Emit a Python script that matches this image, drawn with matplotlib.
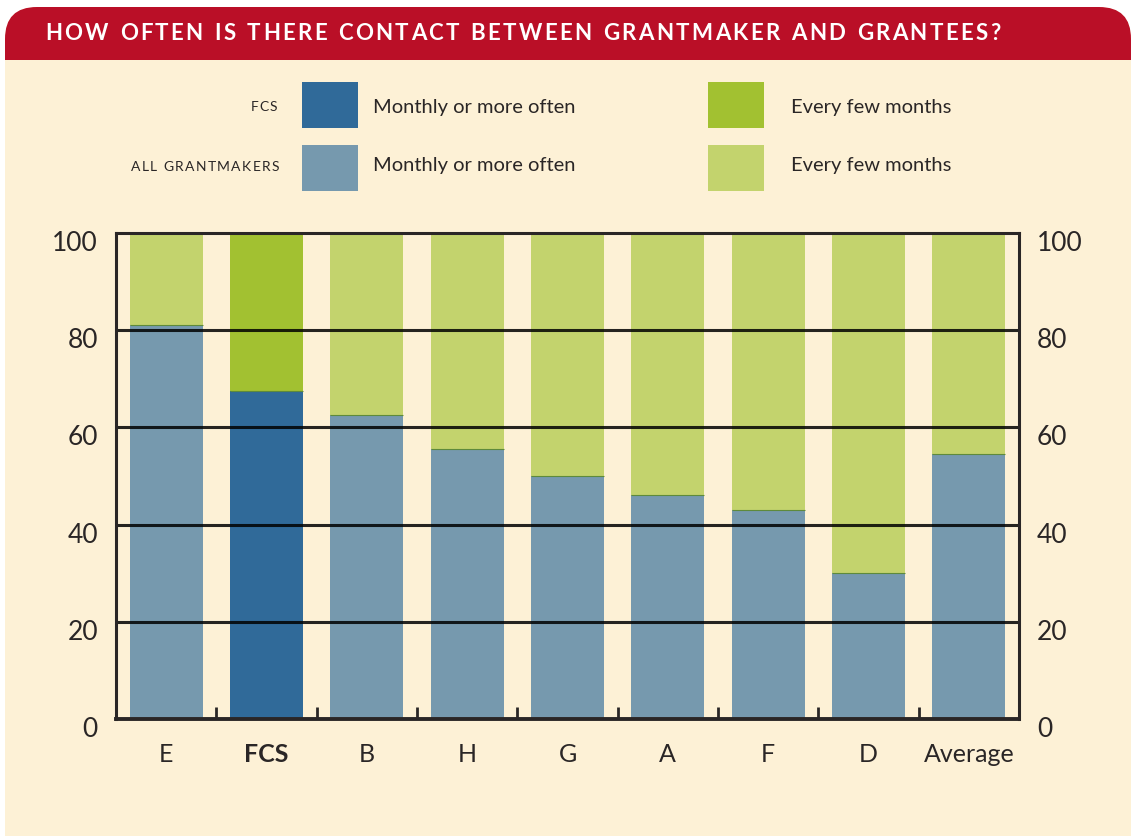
import matplotlib
matplotlib.use('Agg')
import matplotlib.pyplot as plt
import matplotlib.transforms as mtransforms
from matplotlib.patches import FancyBboxPatch, Rectangle

# Data
categories = ['E', 'FCS', 'B', 'H', 'G', 'A', 'F', 'D', 'Average']
monthly = [81, 67.5, 62.5, 55.5, 50, 46, 43, 30, 54.5]
few_months = [19, 32, 37.5, 44.5, 50, 54, 57, 70, 45.5]
y_ticks = [0, 20, 40, 60, 80, 100]

# Colors
c_bg = '#FDF1D6'
c_red = '#BA0F27'
c_fcs_month = '#306A99'
c_fcs_few = '#A2C131'
c_all_month = '#7699AE'
c_all_few = '#C3D36D'
c_text = '#2A2626'

plt.rcParams['font.family'] = ['Lato', 'DejaVu Sans']

W, H = 1132, 836
fig = plt.figure(figsize=(W / 100, H / 100), dpi=100, facecolor='white')

# background layer in pixel coords
bg = fig.add_axes([0, 0, 1, 1], zorder=0)
bg.set_xlim(0, W)
bg.set_ylim(H, 0)
bg.axis('off')

bg.add_patch(FancyBboxPatch((5, 7), 1126, 860, boxstyle='round,pad=0,rounding_size=32',
                            facecolor=c_bg, edgecolor='none'))
bg.add_patch(FancyBboxPatch((5, 7), 1126, 100, boxstyle='round,pad=0,rounding_size=32',
                            facecolor=c_red, edgecolor='none'))
bg.add_patch(Rectangle((5, 60), 1126, 80, facecolor=c_bg, edgecolor='none'))

renderer = fig.canvas.get_renderer()


def spaced_text(ax, x, y, s, target_w, align='left', **kw):
    """Draw text letter by letter, stretched to a target width"""
    widths = []
    for ch in s:
        if ch == ' ':
            t = ax.text(0, 0, 'n', **kw)
            w = t.get_window_extent(renderer).width * 0.55
        else:
            t = ax.text(0, 0, ch, **kw)
            w = t.get_window_extent(renderer).width
        t.remove()
        widths.append(w)
    gap = (target_w - sum(widths)) / (len(s) - 1)
    if align == 'right':
        x = x - target_w
    for ch, w in zip(s, widths):
        if ch != ' ':
            ax.text(x, y, ch, ha='left', va='center', **kw)
        x += w + gap


# Title
spaced_text(bg, 45, 33, 'HOW OFTEN IS THERE CONTACT BETWEEN GRANTMAKER AND GRANTEES?',
            955, fontsize=16, fontweight='bold', color='white')

# Legend
spaced_text(bg, 277, 107, 'FCS', 26, align='right', fontsize=10, color=c_text)
spaced_text(bg, 279, 167, 'ALL GRANTMAKERS', 148, align='right', fontsize=10, color=c_text)
bg.add_patch(Rectangle((302, 82), 56, 46, facecolor=c_fcs_month, edgecolor='none'))
bg.add_patch(Rectangle((302, 145), 56, 46, facecolor=c_all_month, edgecolor='none'))
bg.add_patch(Rectangle((708, 82), 56, 46, facecolor=c_fcs_few, edgecolor='none'))
bg.add_patch(Rectangle((708, 145), 56, 46, facecolor=c_all_few, edgecolor='none'))
for yy in [107, 166]:
    bg.text(373, yy, 'Monthly or more often', fontsize=14.5, color=c_text, va='center')
    bg.text(791, yy, 'Every few months', fontsize=14.5, color=c_text, va='center')

# Chart
ax = fig.add_axes([116 / W, 1 - 719 / H, (1019 - 116) / W, (719 - 233) / H], zorder=1)
ax.patch.set_alpha(0)
x = list(range(len(categories)))
month_colors = [c_fcs_month if c == 'FCS' else c_all_month for c in categories]
few_colors = [c_fcs_few if c == 'FCS' else c_all_few for c in categories]
ax.bar(x, monthly, width=0.73, color=month_colors, zorder=2)
ax.bar(x, few_months, width=0.73, bottom=monthly, color=few_colors, zorder=2)
# thin darker seam where the two segments meet
ax.hlines(monthly, [i - 0.365 for i in x], [i + 0.365 for i in x],
          color='#5E8A3C', lw=0.8, zorder=2.5)
for v in y_ticks[1:-1]:
    ax.axhline(v, color='black', lw=2.2, alpha=0.85, zorder=3)

ax.set_xlim(-0.5, len(categories) - 0.5)
ax.set_ylim(0, 100)
for side in ['left', 'right', 'top', 'bottom']:
    ax.spines[side].set_color(c_text)
    ax.spines[side].set_linewidth(2.2)
    ax.spines[side].set_zorder(4)
ax.spines['bottom'].set_linewidth(2.8)

ax.set_yticks(y_ticks)
ax.tick_params(axis='y', length=0, labelsize=19, labelcolor=c_text,
               left=True, right=True, labelleft=True, labelright=True, pad=13)
offset = mtransforms.ScaledTranslation(0, -8 / 100, fig.dpi_scale_trans)
for t in ax.yaxis.get_major_ticks():
    t.label1.set_transform(t.label1.get_transform() + offset)
    t.label2.set_transform(t.label2.get_transform() + offset)

ax.set_xticks(x)
ax.set_xticklabels(categories)
ax.tick_params(axis='x', length=0, labelsize=18, labelcolor=c_text, pad=17)
for lab in ax.get_xticklabels():
    if lab.get_text() == 'FCS':
        lab.set_fontweight('bold')
ax.set_xticks([i + 0.5 for i in range(len(categories) - 1)], minor=True)
ax.tick_params(axis='x', which='minor', direction='in', length=8.5, width=2, color=c_text)

fig.savefig('out.png', dpi=100, facecolor='white')
